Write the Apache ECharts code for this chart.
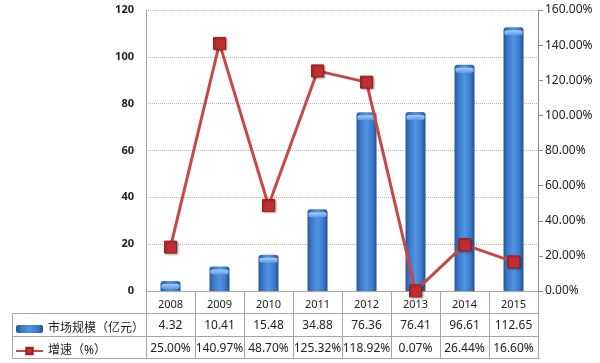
<!DOCTYPE html>
<html><head><meta charset="utf-8">
<script src="https://cdn.jsdelivr.net/npm/echarts@6/dist/echarts.min.js"></script>
<style>html,body{margin:0;padding:0;background:#fff}#c{width:600px;height:363px}</style>
</head><body><div id="c"></div>
<script>
var categories = ['2008','2009','2010','2011','2012','2013','2014','2015'];
var marketSize = [4.32,10.41,15.48,34.88,76.36,76.41,96.61,112.65];
var growth = [25.00,140.97,48.70,125.32,118.92,0.07,26.44,16.60];
var leftTicks = [0,20,40,60,80,100,120];
var rightTicks = [0,20,40,60,80,100,120,140,160];
var seriesNames = ['市场规模（亿元）','增速（%）'];

var FONT = '"Noto Sans","Noto Sans CJK SC",sans-serif';
var L = 146, R = 538, T = 10, B = 291;
var rows = [313, 336, 358];
var tableLeft = 12;
var n = categories.length, colW = (R - L) / n;
var lineColor = '#a6a6a6';
var g = [];
function ln(x1,y1,x2,y2){g.push({type:'line',shape:{x1:x1,y1:y1,x2:x2,y2:y2},style:{stroke:lineColor,lineWidth:1},silent:true});}
for (var i = 0; i <= n; i++) { var x = Math.round(L + colW * i) + 0.5; ln(x, B, x, rows[2] + 0.5); }
for (var r = 0; r < rows.length; r++) ln(tableLeft + 0.5, rows[r] + 0.5, R + 0.5, rows[r] + 0.5);
ln(tableLeft + 0.5, rows[0] + 0.5, tableLeft + 0.5, rows[2] + 0.5);

var chart = echarts.init(document.getElementById('c'), null, {renderer:'canvas'});
chart.setOption({
  animation: false,
  textStyle: {fontFamily: FONT},
  grid: {left: L, right: 600 - R, top: T, bottom: 363 - B, containLabel: false},
  legend: {
    orient: 'vertical', left: 10, top: 318, itemGap: 10, itemWidth: 27, itemHeight: 8,
    textStyle: {fontSize: 12, color: '#222', fontFamily: FONT},
    data: seriesNames
  },
  xAxis: {
    type: 'category', data: categories,
    axisLine: {show: true, lineStyle: {color: lineColor}},
    axisTick: {show: false},
    axisLabel: {
      margin: 4, interval: 0,
      formatter: function (v, idx) {
        return '{y|' + v + '}\n{a|' + marketSize[idx].toFixed(2) + '}\n{b|' + growth[idx].toFixed(2) + '%}';
      },
      rich: {
        y: {fontSize: 11, color: '#222', lineHeight: 19, fontFamily: FONT},
        a: {fontSize: 12, color: '#222', lineHeight: 23, fontFamily: FONT},
        b: {fontSize: 12, color: '#222', lineHeight: 23, fontFamily: FONT}
      }
    }
  },
  yAxis: [{
    type: 'value', min: leftTicks[0], max: leftTicks[leftTicks.length - 1], interval: 20,
    axisLine: {show: true, lineStyle: {color: lineColor}},
    axisTick: {show: false},
    axisLabel: {fontSize: 11, color: '#222', margin: 12, fontWeight: 'bold', fontFamily: FONT},
    splitLine: {show: true, lineStyle: {color: '#b5b5b5', type: 'dotted'}}
  }, {
    type: 'value', min: rightTicks[0], max: rightTicks[rightTicks.length - 1], interval: 20,
    position: 'right',
    axisLine: {show: true, lineStyle: {color: '#8c8c8c'}},
    axisTick: {show: true, inside: false, length: 5, lineStyle: {color: '#8c8c8c'}},
    axisLabel: {fontSize: 12, color: '#222', margin: 7, fontFamily: FONT,
      formatter: function (v) { return v.toFixed(2) + '%'; }},
    splitLine: {show: false}
  }],
  series: [{
    name: seriesNames[0], type: 'bar', data: marketSize, barWidth: 20, yAxisIndex: 0,
    itemStyle: {
      borderRadius: [3,3,0,0],
      color: new echarts.graphic.LinearGradient(0,0,1,0,[
        {offset:0,color:'#27559a'},{offset:0.2,color:'#3c78c8'},{offset:0.5,color:'#5094e4'},
        {offset:0.8,color:'#3c78c8'},{offset:1,color:'#244e8c'}])
    }
  }, {
    name: seriesNames[0] + '_cap', type: 'pictorialBar', data: marketSize, yAxisIndex: 0,
    symbol: 'roundRect', symbolSize: [18, 5], symbolPosition: 'end', symbolOffset: [0, 3],
    barGap: '-100%', silent: true, z: 3,
    itemStyle: {color: new echarts.graphic.LinearGradient(0,0,0,1,[
      {offset:0,color:'#a9cdf5'},{offset:1,color:'#5a9ae6'}])}
  }, {
    name: seriesNames[1], type: 'line', data: growth, yAxisIndex: 1,
    symbol: 'rect', symbolSize: 12,
    lineStyle: {color: '#c84848', width: 3},
    itemStyle: {color: '#c22f32', borderColor: '#9e1e22', borderWidth: 1,
      shadowColor: 'rgba(0,0,0,0.35)', shadowBlur: 2, shadowOffsetX: 1, shadowOffsetY: 1},
    z: 5
  }],
  graphic: g
});
</script></body></html>
